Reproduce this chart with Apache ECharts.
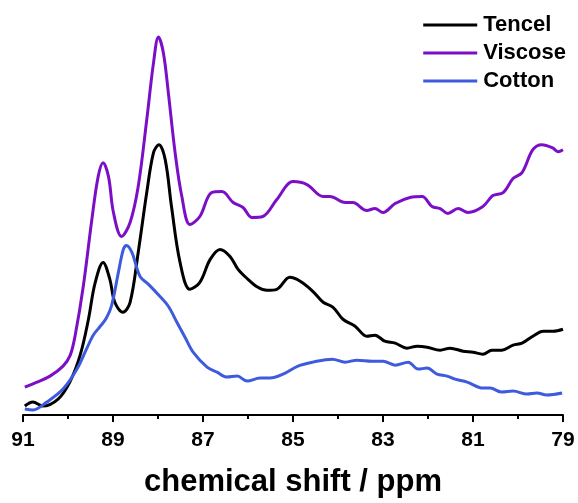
<!DOCTYPE html>
<html>
<head>
<meta charset="utf-8">
<script src="https://cdn.jsdelivr.net/npm/echarts@6/dist/echarts.min.js"></script>
<style>
html, body { margin: 0; padding: 0; background: #fff; }
#chart { width: 578px; height: 503px; }
</style>
</head>
<body>
<div id="chart"></div>
<script>
// chemical shift (ppm) , intensity (a.u.)
var tencel = [
  [90.96, 9], [90.78, 13], [90.56, 9], [90.22, 16], [89.96, 33], [89.73, 60], [89.55, 95],
  [89.40, 132], [89.22, 153], [89.07, 136], [88.96, 113], [88.78, 103], [88.62, 113],
  [88.44, 163], [88.25, 223], [88.10, 263], [87.98, 271], [87.84, 256], [87.70, 209],
  [87.51, 153], [87.29, 126], [87.07, 133], [86.84, 156], [86.62, 166], [86.40, 159], [86.22, 146],
  [86.00, 136], [85.78, 128], [85.58, 125], [85.36, 126], [85.07, 138], [84.84, 134],
  [84.56, 124], [84.33, 113], [84.11, 108], [83.89, 96], [83.62, 89], [83.36, 79],
  [83.18, 80], [82.96, 74], [82.73, 72], [82.47, 67], [82.24, 69], [82.02, 68],
  [81.73, 65], [81.51, 67], [81.22, 64], [81.00, 63], [80.78, 61], [80.58, 65],
  [80.36, 65], [80.11, 70], [79.91, 72], [79.67, 79], [79.44, 84], [79.22, 84], [79.00, 86]
];

var viscose = [
  [90.96, 28], [90.69, 33], [90.40, 39], [90.11, 49], [89.95, 60], [89.84, 80], [89.66, 129],
  [89.47, 196], [89.33, 239], [89.22, 253], [89.10, 239], [88.99, 203], [88.81, 179],
  [88.62, 193], [88.44, 229], [88.25, 296], [88.10, 353], [87.99, 379], [87.88, 363],
  [87.77, 323], [87.62, 263], [87.47, 219], [87.29, 191], [87.07, 199], [86.81, 223],
  [86.58, 224], [86.33, 213],
  [86.11, 208], [85.91, 198], [85.67, 199], [85.36, 216], [85.00, 234], [84.69, 231],
  [84.33, 219], [84.18, 219], [83.84, 213], [83.67, 213], [83.36, 205], [83.18, 207],
  [83.00, 203], [82.73, 212], [82.40, 218], [82.13, 219], [81.91, 209], [81.73, 207],
  [81.56, 202], [81.33, 207], [81.11, 203], [80.78, 209], [80.56, 220], [80.33, 223],
  [80.11, 237], [79.91, 243], [79.67, 266], [79.47, 271], [79.24, 268], [79.11, 264], [79.00, 266]
];

var cotton = [
  [90.96, 6], [90.78, 5], [90.47, 13], [90.11, 26], [89.80, 46], [89.58, 67], [89.44, 80],
  [89.30, 88], [89.15, 97], [89.03, 110], [88.88, 143], [88.77, 166], [88.70, 170], [88.58, 163],
  [88.40, 139], [88.21, 131], [87.96, 119], [87.77, 109], [87.58, 93], [87.40, 78],
  [87.22, 63], [86.91, 48], [86.69, 43], [86.47, 38], [86.24, 39], [86.02, 34],
  [85.73, 37], [85.51, 37], [85.22, 41], [84.89, 49], [84.56, 53], [84.13, 56],
  [83.84, 53], [83.58, 55], [83.24, 54], [83.00, 54], [82.73, 50], [82.44, 53],
  [82.22, 46], [82.02, 47], [81.80, 41], [81.58, 39], [81.40, 36], [81.13, 33],
  [80.78, 27], [80.62, 27], [80.36, 23], [80.11, 24], [79.80, 21], [79.58, 22],
  [79.36, 20], [79.02, 22]
];

var seriesNames = ['Tencel', 'Viscose', 'Cotton'];
var seriesColors = ['#000000', '#7b0fc8', '#3e5bdd'];
var seriesData = [tencel, viscose, cotton];

var myChart = echarts.init(document.getElementById('chart'));

var series = [];
for (var i = 0; i < seriesNames.length; i++) {
  series.push({
    name: seriesNames[i],
    type: 'line',
    symbol: 'none',
    smooth: 0.35,
    data: seriesData[i],
    lineStyle: { color: seriesColors[i], width: 3 },
    itemStyle: { color: seriesColors[i] }
  });
}

var option = {
  animation: false,
  backgroundColor: '#fff',
  grid: {
    left: 23,
    right: 15,
    top: 16,
    bottom: 87
  },
  legend: {
    orient: 'vertical',
    right: 7,
    top: 9,
    icon: 'rect',
    itemWidth: 54,
    itemHeight: 3,
    itemGap: 6,
    data: seriesNames,
    textStyle: {
      fontFamily: 'Liberation Sans',
      fontWeight: 'bold',
      fontSize: 22,
      lineHeight: 22,
      color: '#000',
      padding: [0, 0, 0, 1]
    }
  },
  xAxis: {
    type: 'value',
    inverse: true,
    min: 79,
    max: 91,
    interval: 2,
    name: 'chemical shift / ppm',
    nameLocation: 'middle',
    nameGap: 52,
    nameTextStyle: {
      fontFamily: 'Liberation Sans',
      fontWeight: 'bold',
      fontSize: 31,
      color: '#000'
    },
    axisLine: { lineStyle: { color: '#000', width: 2 } },
    axisTick: { show: true, length: 7, lineStyle: { color: '#000', width: 2 } },
    minorTick: { show: true, splitNumber: 2, length: 4, lineStyle: { color: '#000', width: 2 } },
    axisLabel: {
      margin: 15,
      fontFamily: 'Liberation Sans',
      fontWeight: 'bold',
      fontSize: 21,
      color: '#000'
    },
    splitLine: { show: false }
  },
  yAxis: {
    type: 'value',
    min: 0,
    max: 400,
    show: false
  },
  series: series
};

myChart.setOption(option);
</script>
</body>
</html>
